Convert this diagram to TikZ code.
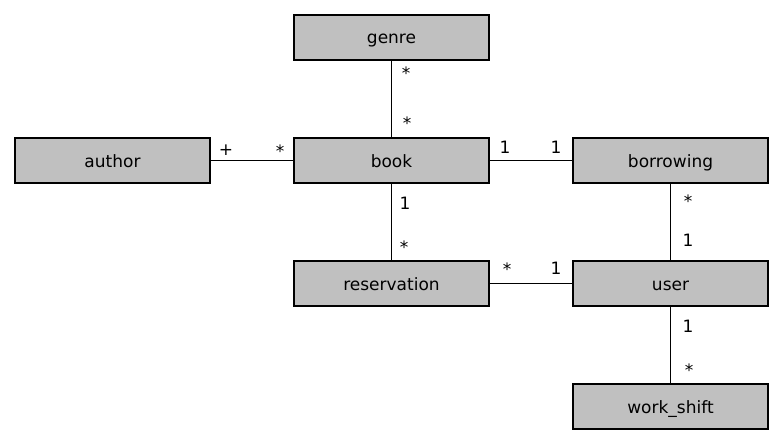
\documentclass[tikz,border=0pt]{standalone}
\usepackage{fontspec}
\setmainfont{DejaVu Sans}
\begin{document}
\begin{tikzpicture}[x=1pt,y=-1pt,
  ent/.style={draw=black,line width=1.4pt,fill={rgb,255:red,192;green,192;blue,192},minimum width=195pt,minimum height=45pt,inner sep=0pt,text height=13pt,text depth=0pt,font=\fontsize{17}{20}\selectfont},
  lnk/.style={draw=black,line width=1.4pt},
  lab/.style={font=\fontsize{17}{20}\selectfont,inner sep=0pt}]
\useasboundingbox[fill=white] (0,0) rectangle (783,444);
\node[ent] (genre) at (391.5,37.5) {genre};
\node[ent] (author) at (112.5,160.5) {author};
\node[ent] (book) at (391.5,160.5) {book};
\node[ent] (borrowing) at (670.5,160.5) {borrowing};
\node[ent] (reservation) at (391.5,283.5) {reservation};
\node[ent] (user) at (670.5,283.5) {user};
\node[ent] (work) at (670.5,406.5) {work\_shift};
\draw[lnk] (genre) -- (book);
\draw[lnk] (author) -- (book);
\draw[lnk] (book) -- (borrowing);
\draw[lnk] (book) -- (reservation);
\draw[lnk] (borrowing) -- (user);
\draw[lnk] (reservation) -- (user);
\draw[lnk] (user) -- (work);
\node[lab] (l1) at (406,73) {*};
\node[lab] (l2) at (407,123) {*};
\node[lab] (l3) at (226,150) {+};
\node[lab] (l4) at (280,151) {*};
\node[lab] (l5) at (505,147) {1};
\node[lab] (l6) at (556,147) {1};
\node[lab] (l7) at (405,203) {1};
\node[lab] (l8) at (404,247) {*};
\node[lab] (l9) at (688,201) {*};
\node[lab] (l10) at (688,240) {1};
\node[lab] (l11) at (507,269) {*};
\node[lab] (l12) at (556,268) {1};
\node[lab] (l13) at (688,326) {1};
\node[lab] (l14) at (689,370) {*};
\end{tikzpicture}
\end{document}
